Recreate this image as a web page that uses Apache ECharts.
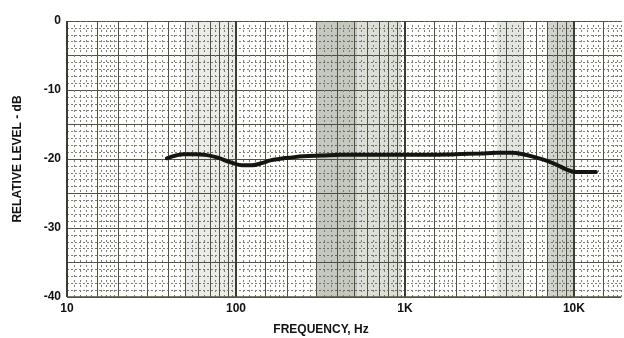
<!DOCTYPE html>
<html>
<head>
<meta charset="utf-8">
<script src="https://cdn.jsdelivr.net/npm/echarts@6/dist/echarts.min.js"></script>
<style>
  html, body { margin: 0; padding: 0; background: #ffffff; }
  #chart { width: 624px; height: 338px; }
</style>
</head>
<body>
<div id="chart"></div>
<script>
// Frequency response trace (Hz, dB)
const freqHz = [39, 44, 49, 57, 66, 78, 91, 108, 125, 142, 160, 180, 210, 250, 320, 420, 560, 750, 1000, 1400, 2000, 2800, 3500, 4200, 5000, 6000, 7000, 8000, 9000, 9800, 11000, 12500, 13500];
const levelDb = [-19.9, -19.5, -19.3, -19.3, -19.4, -19.8, -20.4, -20.9, -20.9, -20.6, -20.2, -20.0, -19.8, -19.6, -19.5, -19.4, -19.4, -19.4, -19.4, -19.4, -19.3, -19.2, -19.1, -19.1, -19.3, -19.8, -20.3, -20.9, -21.5, -21.8, -21.9, -21.9, -21.9];

// Axis ranges and labels
const freqMin = 10, freqMax = 19000;
const levelMin = -40, levelMax = 0;
const decadeLabels = { 10: '10', 100: '100', 1000: '1K', 10000: '10K' };

// Graph-paper rulings within each decade (multipliers of the decade start)
const majorSteps = [1, 1.5, 2, 3, 4, 5, 6, 7, 8, 9];
const minorSteps = [1.1, 1.2, 1.3, 1.4, 1.6, 1.7, 1.8, 1.9, 2.25, 2.5, 2.75, 3.33, 3.67, 4.33, 4.67, 5.5, 6.5, 7.5, 8.5, 9.5];
const decades = [10, 100, 1000, 10000];
// Darker printed bands on the paper
const bands = [[50, 100, 0.10], [300, 520, 0.30], [520, 950, 0.18], [3500, 5000, 0.14], [7000, 10000, 0.24]];

const majorX = [], minorX = [];
decades.forEach(d => {
  majorSteps.forEach(m => { const v = d * m; if (v <= freqMax) majorX.push(v); });
  minorSteps.forEach(m => { const v = d * m; if (v <= freqMax) minorX.push(v); });
});

const gridCol = '#50543f';
const minorCol = '#7c7f6c';
const font = '"Liberation Sans", Arial, sans-serif';

const chart = echarts.init(document.getElementById('chart'), null, { renderer: 'canvas' });
chart.setOption({
  animation: false,
  backgroundColor: '#ffffff',
  title: {
    text: 'FREQUENCY, Hz',
    left: 316, top: 319, textAlign: 'center',
    textStyle: { fontFamily: font, fontWeight: 'bold', fontSize: 12, color: '#111' }
  },
  grid: { left: 67, right: 0, top: 21, bottom: 41 },
  xAxis: {
    type: 'log', logBase: 10, min: freqMin, max: freqMax,
    axisLine: { show: false }, axisTick: { show: false },
    splitLine: { show: false },
    axisLabel: {
      margin: 6,
      fontFamily: font, fontWeight: 'bold', fontSize: 12, color: '#111',
      formatter: v => decadeLabels[Math.round(v)] || ''
    }
  },
  yAxis: {
    type: 'value', min: levelMin, max: levelMax, interval: 5,
    name: 'RELATIVE LEVEL - dB', nameLocation: 'middle', nameGap: 43,
    nameTextStyle: { fontFamily: font, fontWeight: 'bold', fontSize: 12, color: '#111' },
    axisLine: { show: false }, axisTick: { show: false },
    axisLabel: {
      margin: 6,
      fontFamily: font, fontWeight: 'bold', fontSize: 12,
      color: v => (v === 0 ? '#6e7020' : '#111'),
      formatter: v => (v % 10 === 0 ? String(v) : '')
    },
    splitLine: { show: true, lineStyle: { color: gridCol, width: 1 } },
    minorTick: { show: false, splitNumber: 5 },
    minorSplitLine: { show: true, lineStyle: { color: minorCol, width: 1, type: [2, 2] } }
  },
  series: [
    {
      type: 'line', data: [], silent: true,
      markArea: {
        silent: true,
        data: bands.map(b => [
          { xAxis: b[0], itemStyle: { color: 'rgba(60,72,50,' + b[2] + ')' } },
          { xAxis: b[1] }
        ])
      }
    },
    {
      type: 'line', data: [], silent: true,
      markLine: {
        silent: true, symbol: 'none', label: { show: false },
        lineStyle: { color: minorCol, width: 1, type: [2, 3] },
        data: minorX.map(v => ({ xAxis: v }))
      }
    },
    {
      type: 'line', data: [], silent: true,
      markLine: {
        silent: true, symbol: 'none', label: { show: false },
        lineStyle: { color: gridCol, width: 1, type: 'solid' },
        data: majorX.map(v => ({
          xAxis: v,
          lineStyle: decadeLabels[v] ? { color: '#3a3e30', width: 2 } : undefined
        }))
      }
    },
    {
      type: 'line', data: [], silent: true,
      markLine: {
        silent: true, symbol: 'none', label: { show: false },
        lineStyle: { color: gridCol, width: 1.5, type: 'solid' },
        data: [{ yAxis: levelMin }]
      }
    },
    {
      type: 'line',
      data: freqHz.map((f, i) => [f, levelDb[i]]),
      smooth: 0.4, showSymbol: false,
      lineStyle: { color: '#141612', width: 4, cap: 'round' },
      z: 10
    }
  ]
});
</script>
</body>
</html>
